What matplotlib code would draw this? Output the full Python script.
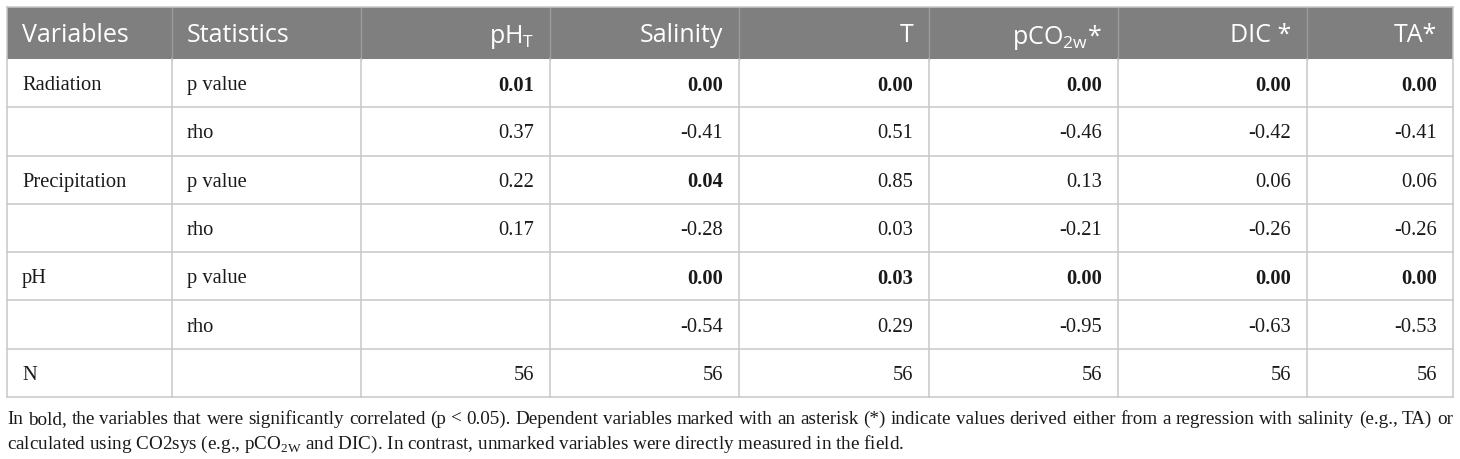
import matplotlib.pyplot as plt
from matplotlib.patches import Rectangle

# Table content
headers = ["Variables", "Statistics", "pH$_{\\mathregular{T}}$", "Salinity", "T",
           "pCO$_{\\mathregular{2w}}$*", "DIC *", "TA*"]
variables = ["Radiation", "", "Precipitation", "", "pH", "", "N"]
statistics = ["p value", "rho", "p value", "rho", "p value", "rho", ""]

# one list per dependent variable, rows in the same order as above
ph_t = [0.01, 0.37, 0.22, 0.17, None, None, 56]
salinity = [0.00, -0.41, 0.04, -0.28, 0.00, -0.54, 56]
temp = [0.00, 0.51, 0.85, 0.03, 0.03, 0.29, 56]
pco2w = [0.00, -0.46, 0.13, -0.21, 0.00, -0.95, 56]
dic = [0.00, -0.42, 0.06, -0.26, 0.00, -0.63, 56]
ta = [0.00, -0.41, 0.06, -0.26, 0.00, -0.53, 56]
columns = [ph_t, salinity, temp, pco2w, dic, ta]

footer_line1 = ("In bold, the variables that were significantly correlated (p < 0.05). "
                "Dependent variables marked with an asterisk (*) indicate values derived "
                "either from a regression with salinity (e.g., TA) or")
footer_line2 = ("calculated using CO2sys (e.g., pCO$_{\\mathregular{2W}}$ and DIC). "
                "In contrast, unmarked variables were directly measured in the field.")

# Layout in pixels
W, H = 1460, 459
col_edges = [7, 172, 361, 550, 739, 929, 1118, 1307, 1453]
header_top, header_bot = 7, 59
row_h = (397 - header_bot) / len(variables)
pad_l, pad_r = 15, 16

grid_col = "#c8c8c8"
header_bg = "#7f7f7f"
text_col = "#1a1a1a"
sans = "Open Sans"
serif = "Liberation Serif"

fig = plt.figure(figsize=(W / 100, H / 100), dpi=100)
ax = fig.add_axes([0, 0, 1, 1])
ax.set_xlim(0, W)
ax.set_ylim(H, 0)
ax.axis("off")

# header band
ax.add_patch(Rectangle((col_edges[0], header_top), col_edges[-1] - col_edges[0],
                       header_bot - header_top, facecolor=header_bg, edgecolor="none"))
for x in col_edges[1:-1]:
    ax.plot([x, x], [header_top, header_bot], color="#9c9c9c", lw=1.0)

hy = (header_top + header_bot) / 2
for i, h in enumerate(headers):
    if i < 2:
        ax.text(col_edges[i] + pad_l, hy, h, ha="left", va="center_baseline",
                fontsize=18, family=sans, color="white")
    else:
        ax.text(col_edges[i + 1] - pad_r, hy, h, ha="right", va="center_baseline",
                fontsize=18, family=sans, color="white")

# body rows
for r in range(len(variables)):
    y0 = header_bot + r * row_h
    yc = y0 + row_h / 2
    ax.plot([col_edges[0], col_edges[-1]], [y0 + row_h, y0 + row_h], color=grid_col, lw=1.1)
    ax.text(col_edges[0] + pad_l, yc, variables[r], ha="left", va="center_baseline",
            fontsize=14.8, family=serif, color=text_col)
    ax.text(col_edges[1] + pad_l, yc, statistics[r], ha="left", va="center_baseline",
            fontsize=14.8, family=serif, color=text_col)
    for c, vals in enumerate(columns):
        v = vals[r]
        if v is None:
            continue
        if statistics[r] == "":
            label = f"{v:d}"
        else:
            label = f"{v:.2f}"
        bold = statistics[r] == "p value" and v < 0.05
        ax.text(col_edges[c + 3] - pad_r, yc, label, ha="right", va="center_baseline",
                fontsize=14.8, family=serif, color=text_col,
                fontweight="bold" if bold else "normal")

# grid verticals and outer border of the body
body_bot = header_bot + len(variables) * row_h
for x in col_edges:
    ax.plot([x, x], [header_bot, body_bot], color=grid_col, lw=1.1)
ax.plot([col_edges[0], col_edges[-1]], [header_top, header_top], color=grid_col, lw=1.1)
ax.plot([col_edges[0], col_edges[0]], [header_top, header_bot], color=grid_col, lw=1.1)
ax.plot([col_edges[-1], col_edges[-1]], [header_top, header_bot], color=grid_col, lw=1.1)


# footer: first line justified across the table width, second line left aligned
def text_width(s, renderer):
    t = ax.text(0, 0, s, fontsize=13.8, family=serif)
    w = t.get_window_extent(renderer).width
    t.remove()
    return w


renderer = fig.canvas.get_renderer()
words = footer_line1.split(" ")
natural = text_width(footer_line1, renderer)
extra = (col_edges[-1] - col_edges[0] - natural) / (len(words) - 1)
for i, w in enumerate(words):
    start = text_width(" ".join(words[:i + 1]), renderer) - text_width(w, renderer)
    ax.text(col_edges[0] + start + i * extra, 424, w, ha="left", va="baseline",
            fontsize=13.8, family=serif, color=text_col)

ax.text(col_edges[0], 449, footer_line2, ha="left", va="baseline", fontsize=13.8,
        family=serif, color=text_col)

fig.savefig("out.png", dpi=100)
